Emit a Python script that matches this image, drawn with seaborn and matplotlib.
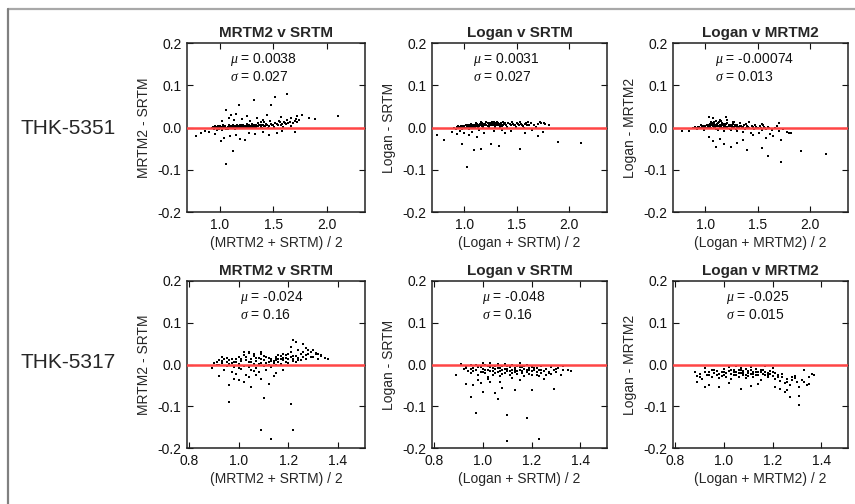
import matplotlib
matplotlib.use('Agg')
import matplotlib.pyplot as plt
from matplotlib.lines import Line2D
import seaborn as sns
import pandas as pd

# ---- data (approximate) ----
row_labels = ['THK-5351', 'THK-5317']
titles = ['MRTM2 v SRTM', 'Logan v SRTM', 'Logan v MRTM2']
ylabels = ['MRTM2 - SRTM', 'Logan - SRTM', 'Logan - MRTM2']
xlabels = ['(MRTM2 + SRTM) / 2', '(Logan + SRTM) / 2', '(Logan + MRTM2) / 2']
mu_text = [['0.0038', '0.0031', '-0.00074'], ['-0.024', '-0.048', '-0.025']]
sigma_text = [['0.027', '0.027', '0.013'], ['0.16', '0.16', '0.015']]

top_xticks = [1.0, 1.5, 2.0]
bottom_xticks = [0.8, 1.0, 1.2, 1.4]
yticks = [-0.2, -0.1, 0.0, 0.1, 0.2]

# THK-5351, MRTM2 v SRTM
p1 = [(0.92,-0.002),(0.93,0.001),(0.94,-0.004),(0.95,0.000),(0.96,0.002),(0.97,-0.001),(0.98,0.001),(0.99,-0.003),
      (1.00,0.000),(1.01,0.002),(1.02,-0.001),(1.03,0.001),(1.04,0.003),(1.05,-0.002),(1.06,0.000),(1.07,0.002),
      (1.08,-0.001),(1.09,0.001),(1.10,0.003),(1.11,0.000),(1.12,0.002),(1.13,-0.001),(1.14,0.001),(1.15,0.004),
      (1.16,0.000),(1.17,0.002),(1.18,0.003),(1.19,0.001),(1.20,0.002),(1.21,0.004),(1.22,0.001),(1.23,0.003),
      (1.24,0.000),(1.25,0.002),(1.26,0.005),(1.27,0.002),(1.28,0.003),(1.29,0.001),(1.30,0.004),(1.31,0.002),
      (1.32,0.005),(1.33,0.003),(1.34,0.001),(1.35,0.004),(1.37,0.006),(1.38,0.002),(1.40,0.005),(1.42,0.003),
      (1.44,0.007),(1.46,0.004),(1.48,0.008),(1.50,0.006),(1.52,0.010),(1.54,0.007),(1.56,0.012),(1.58,0.009),
      (1.60,0.013),(1.62,0.008),(1.64,0.011),(1.66,0.014),(1.68,0.010),(1.70,0.015),(1.72,0.012),(1.74,0.017),
      (0.95,0.003),(0.97,-0.005),(1.00,0.004),(1.02,-0.006),(1.03,0.005),(1.05,0.002),(1.07,-0.004),(1.08,0.006),
      (1.10,-0.002),(1.12,0.005),(1.14,-0.003),(1.16,0.006),(1.18,-0.002),(1.20,0.007),(1.23,-0.001),(1.25,0.008),
      (1.28,0.000),(1.30,0.009),(1.33,-0.002),(1.36,0.010),(1.39,0.000),(1.41,0.012),(1.45,-0.002),(1.47,0.015),
      (1.51,0.001),(1.55,0.016),(1.59,0.002),(1.63,0.018),(1.67,0.004),(1.71,0.020),
      (0.96,0.000),(0.98,0.003),(0.99,0.001),(1.01,-0.002),(1.02,0.002),(1.04,0.000),(1.05,0.004),(1.06,-0.003),
      (1.07,0.001),(1.08,0.003),(1.09,-0.002),(1.10,0.001),(1.11,0.004),(1.12,-0.001),(1.13,0.003),(1.14,0.000),
      (1.15,0.002),(1.16,-0.002),(1.17,0.004),(1.18,0.001),(1.19,0.005),(1.20,-0.001),(1.21,0.002),(1.22,0.005),
      (1.24,0.003),(1.25,0.000),(1.26,0.002),(1.27,0.006),(1.29,0.004),(1.31,0.000),(1.32,0.002),(1.34,0.006),
      (1.36,0.003),(1.38,0.007),(1.41,0.004),(1.43,0.008),(1.49,0.005),(1.53,0.009),(1.57,0.006),(1.61,0.010),
      (1.06,0.041),(1.10,0.029),(1.08,0.022),(1.13,0.018),(1.18,0.053),(1.21,0.020),(1.25,0.027),(1.28,0.015),
      (1.32,0.064),(1.35,0.022),(1.40,0.018),(1.44,0.030),(1.48,0.053),(1.52,0.072),(1.57,0.025),(1.63,0.079),
      (1.67,0.022),(1.72,0.028),(1.77,0.030),(1.83,0.022),(1.89,0.021),(2.11,0.027),(1.15,0.033),(1.38,0.012),
      (1.02,0.015),
      (0.77,-0.021),(0.82,-0.013),(0.86,-0.008),(0.90,-0.010),(0.95,-0.015),(1.01,-0.033),(1.04,-0.025),(1.06,-0.086),
      (1.09,-0.020),(1.12,-0.056),(1.15,-0.018),(1.19,-0.028),(1.23,-0.030),(1.27,-0.012),(1.33,-0.016),(1.40,-0.010),
      (1.46,-0.018),(1.53,-0.012),(1.58,-0.008),(1.70,-0.011)]

# THK-5351, Logan v SRTM
p2 = [(0.90,0.000),(0.92,-0.003),(0.93,0.002),(0.95,0.001),(0.96,-0.002),(0.97,0.003),(0.99,0.000),(1.00,0.004),
      (1.01,-0.001),(1.02,0.003),(1.03,0.005),(1.04,0.001),(1.05,0.004),(1.06,0.002),(1.07,0.006),(1.08,0.003),
      (1.09,0.005),(1.10,0.001),(1.11,0.006),(1.12,0.004),(1.13,0.007),(1.14,0.003),(1.15,0.006),(1.16,0.008),
      (1.17,0.004),(1.18,0.007),(1.19,0.005),(1.20,0.009),(1.21,0.006),(1.22,0.004),(1.23,0.008),(1.24,0.006),
      (1.25,0.010),(1.26,0.007),(1.27,0.005),(1.28,0.009),(1.29,0.006),(1.30,0.011),(1.31,0.008),(1.32,0.005),
      (1.33,0.009),(1.35,0.007),(1.36,0.004),(1.38,0.008),(1.40,0.006),(1.42,0.010),(1.44,0.005),(1.46,0.009),
      (1.48,0.007),(1.50,0.011),(1.52,0.006),(1.54,0.009),(1.56,0.004),(1.58,0.008),(1.60,0.006),(1.63,0.010),
      (1.66,0.005),(1.70,0.009),(1.73,0.011),(1.77,0.008),(1.81,0.007),
      (0.94,0.004),(0.98,-0.004),(1.01,0.006),(1.04,-0.003),(1.06,0.008),(1.08,-0.002),(1.11,0.010),(1.13,0.000),
      (1.16,0.012),(1.18,0.001),(1.21,0.013),(1.23,0.002),(1.26,0.014),(1.29,0.002),(1.31,0.013),(1.34,0.001),
      (1.37,0.012),(1.41,0.002),(1.45,0.013),(1.49,0.001),(1.53,0.014),(1.57,0.000),(1.61,0.012),(1.68,0.002),
      (0.95,0.002),(0.97,0.000),(0.99,0.003),(1.00,0.001),(1.02,0.005),(1.03,0.002),(1.05,0.006),(1.06,0.004),
      (1.07,0.003),(1.09,0.007),(1.10,0.004),(1.12,0.008),(1.13,0.005),(1.15,0.009),(1.16,0.005),(1.17,0.010),
      (1.19,0.008),(1.20,0.006),(1.22,0.010),(1.23,0.005),(1.24,0.011),(1.26,0.009),(1.27,0.008),(1.28,0.012),
      (1.30,0.007),(1.32,0.010),(1.33,0.006),(1.35,0.011),(1.37,0.006),(1.39,0.010),(1.43,0.008),(1.47,0.006),
      (1.51,0.009),(1.55,0.007),(1.59,0.010),(1.62,0.007),(1.72,0.012),(1.76,0.010),
      (0.74,-0.018),(0.80,-0.029),(0.88,-0.010),(0.93,-0.015),(0.96,-0.008),(0.98,-0.040),(1.00,-0.012),(1.02,-0.094),
      (1.04,-0.018),(1.07,-0.010),(1.09,-0.054),(1.12,-0.022),(1.16,-0.050),(1.19,-0.014),(1.25,-0.040),(1.28,-0.009),
      (1.33,-0.044),(1.39,-0.013),(1.44,-0.008),(1.53,-0.050),(1.58,-0.012),(1.64,-0.006),(1.70,-0.021),(1.75,-0.010),
      (1.89,-0.034),(2.11,-0.036),(1.14,-0.006),(1.36,-0.005)]

# THK-5351, Logan v MRTM2
p3 = [(0.88,-0.002),(0.90,0.001),(0.92,-0.004),(0.94,0.002),(0.95,-0.001),(0.97,0.003),(0.98,0.000),(1.00,0.004),
      (1.01,-0.002),(1.02,0.006),(1.03,0.002),(1.04,0.008),(1.05,-0.001),(1.06,0.005),(1.07,0.010),(1.08,0.002),
      (1.09,0.007),(1.10,-0.003),(1.11,0.009),(1.12,0.004),(1.13,0.012),(1.14,0.001),(1.15,0.006),(1.16,0.010),
      (1.17,-0.002),(1.18,0.005),(1.19,0.008),(1.20,0.002),(1.21,0.011),(1.22,0.004),(1.23,-0.003),(1.24,0.007),
      (1.25,0.002),(1.26,0.009),(1.27,0.000),(1.28,0.005),(1.29,-0.004),(1.30,0.006),(1.31,0.002),(1.32,-0.002),
      (1.34,0.004),(1.35,0.000),(1.37,0.006),(1.38,-0.003),(1.40,0.003),(1.42,-0.001),(1.44,0.004),(1.46,-0.004),
      (1.48,0.002),(1.50,-0.002),(1.52,0.003),(1.54,-0.005),(1.56,0.001),(1.58,-0.003),(1.60,0.002),(1.63,-0.006),
      (1.66,0.000),(1.70,-0.008),(1.74,-0.004),(1.78,-0.010),(1.80,-0.012),
      (0.96,0.005),(0.99,-0.005),(1.02,0.001),(1.05,0.012),(1.08,0.014),(1.10,0.016),(1.12,-0.006),(1.15,0.015),
      (1.18,-0.008),(1.21,0.018),(1.24,-0.007),(1.27,0.013),(1.30,-0.009),(1.33,0.010),(1.36,-0.010),(1.39,0.008),
      (1.43,-0.012),(1.47,0.007),(1.51,-0.013),(1.55,0.006),(1.62,-0.015),(1.68,0.004),
      (0.91,-0.001),(0.93,0.001),(0.96,0.000),(0.98,0.004),(1.00,0.001),(1.01,0.005),(1.03,0.007),(1.04,0.003),
      (1.05,0.006),(1.06,0.009),(1.07,0.003),(1.08,0.008),(1.09,0.001),(1.10,0.006),(1.11,0.004),(1.12,0.010),
      (1.13,0.003),(1.14,0.007),(1.15,0.002),(1.16,0.005),(1.17,0.008),(1.18,0.002),(1.19,0.004),(1.20,0.009),
      (1.21,0.001),(1.22,0.007),(1.23,0.003),(1.25,0.006),(1.26,0.001),(1.28,0.003),(1.30,0.001),(1.33,0.003),
      (1.36,0.002),(1.39,0.000),(1.41,0.002),(1.45,0.001),(1.49,-0.001),(1.53,0.000),(1.57,-0.002),(1.61,0.000),
      (1.03,0.024),(1.07,0.022),(1.20,0.026),(1.14,0.018),(1.26,0.014),(1.42,0.012),(1.54,0.009),(1.70,0.010),
      (1.10,-0.045),(1.18,-0.039),(1.24,-0.046),(1.30,-0.037),(1.40,-0.053),(1.54,-0.048),(1.60,-0.067),(1.72,-0.081),
      (1.91,-0.055),(2.15,-0.062),(1.72,-0.029),(1.64,-0.021),(1.82,-0.013),(0.78,-0.008),(0.84,-0.008),(1.03,-0.023),
      (1.07,-0.033),(1.14,-0.028),(1.36,-0.029),(1.45,-0.017),(1.58,-0.025)]

# THK-5317, MRTM2 v SRTM
p4 = [(0.89,-0.008),(0.90,0.003),(0.91,0.006),(0.92,-0.001),(0.92,0.010),(0.93,0.004),(0.94,-0.012),(0.94,0.013),
      (0.95,0.007),(0.95,-0.004),(0.96,0.011),(0.96,0.001),(0.97,-0.018),(0.97,0.014),(0.98,0.005),(0.98,-0.007),
      (0.99,0.012),(0.99,-0.022),(1.00,0.002),(1.00,0.017),(1.01,-0.010),(1.01,0.008),(1.02,0.022),(1.02,-0.003),
      (1.03,0.011),(1.03,-0.026),(1.04,0.005),(1.04,0.028),(1.05,-0.014),(1.05,0.013),(1.06,0.002),(1.06,0.020),
      (1.07,-0.008),(1.07,0.009),(1.08,0.016),(1.08,-0.019),(1.09,0.004),(1.09,0.024),(1.10,-0.004),(1.10,0.011),
      (1.11,0.018),(1.11,-0.012),(1.12,0.006),(1.12,0.000),(1.13,0.014),(1.13,-0.006),(1.14,0.009),(1.14,0.003),
      (1.15,0.016),(1.15,-0.002),(1.16,0.012),(1.16,0.005),(1.17,0.020),(1.17,0.001),(1.18,0.010),(1.18,0.015),
      (1.19,0.006),(1.19,0.023),(1.20,0.012),(1.20,0.003),(1.21,0.018),(1.21,0.030),(1.22,0.009),(1.22,0.014),
      (1.23,0.021),(1.23,0.006),(1.24,0.016),(1.25,0.026),(1.25,0.010),(1.26,0.019),(1.27,0.013),(1.28,0.024),
      (1.28,0.034),(1.30,0.017),(1.31,0.028),(1.32,0.012),(1.33,0.020),(1.35,0.015),
      (0.91,0.000),(0.93,0.008),(0.95,0.015),(0.97,0.003),(0.99,0.006),(1.00,-0.008),(1.01,0.014),(1.03,0.018),
      (1.04,-0.005),(1.05,0.007),(1.06,0.026),(1.07,0.015),(1.08,0.002),(1.09,0.012),(1.10,0.020),(1.11,0.004),
      (1.12,0.015),(1.13,0.008),(1.15,0.010),(1.16,0.022),(1.17,0.013),(1.19,0.016),(1.20,0.025),(1.22,0.020),
      (1.24,0.010),(1.26,0.030),(1.27,0.022),(1.29,0.018),(1.30,0.035),(1.32,0.025),
      (0.92,-0.028),(0.96,-0.049),(0.96,-0.091),(0.98,-0.035),(1.00,-0.037),(1.02,-0.042),(1.04,-0.030),(1.05,-0.053),
      (1.07,-0.024),(1.09,-0.034),(1.10,-0.081),(1.09,-0.157),(1.12,-0.047),(1.13,-0.179),(1.15,-0.020),(1.18,-0.012),
      (1.21,-0.095),(1.22,-0.158),(1.14,-0.028),(1.06,-0.016),
      (0.93,0.017),(1.02,0.030),(1.04,0.030),(1.09,0.030),(1.15,0.018),(1.18,0.026),(1.21,0.042),(1.22,0.058),
      (1.23,0.054),(1.24,0.035),(1.27,0.040),(1.29,0.030),(1.31,0.026),(1.33,0.022),(1.36,0.013),(1.26,0.048)]

# THK-5317, Logan v SRTM
p5 = [(0.91,0.002),(0.92,-0.010),(0.93,-0.004),(0.94,-0.015),(0.95,-0.002),(0.95,-0.020),(0.96,-0.008),(0.97,0.000),
      (0.97,-0.013),(0.98,-0.025),(0.99,-0.005),(0.99,-0.017),(1.00,0.003),(1.00,-0.010),(1.01,-0.021),(1.01,-0.002),
      (1.02,-0.012),(1.02,-0.030),(1.03,-0.006),(1.03,0.004),(1.04,-0.015),(1.04,-0.024),(1.05,-0.003),(1.05,-0.011),
      (1.06,-0.019),(1.06,0.001),(1.07,-0.008),(1.07,-0.028),(1.08,-0.014),(1.08,-0.004),(1.09,-0.020),(1.09,0.002),
      (1.10,-0.010),(1.10,-0.016),(1.11,-0.006),(1.11,-0.025),(1.12,-0.013),(1.12,0.000),(1.13,-0.018),(1.13,-0.008),
      (1.14,-0.003),(1.14,-0.022),(1.15,-0.012),(1.15,0.003),(1.16,-0.016),(1.16,-0.007),(1.17,-0.027),(1.17,-0.011),
      (1.18,-0.002),(1.18,-0.019),(1.19,-0.009),(1.19,-0.014),(1.20,-0.024),(1.20,-0.005),(1.21,-0.013),(1.22,-0.018),
      (1.22,-0.008),(1.23,-0.028),(1.23,-0.012),(1.24,-0.004),(1.24,-0.020),(1.25,-0.015),(1.26,-0.010),(1.26,-0.026),
      (1.27,-0.017),(1.28,-0.007),(1.28,-0.022),(1.29,-0.013),(1.30,-0.019),(1.31,-0.009),(1.32,-0.024),(1.33,-0.014),
      (1.33,-0.003),(1.35,-0.012),(1.36,-0.016),
      (0.93,-0.008),(0.95,-0.011),(0.96,-0.016),(0.98,-0.006),(1.00,-0.018),(1.01,-0.012),(1.02,-0.004),(1.03,-0.016),
      (1.04,-0.008),(1.05,-0.020),(1.06,-0.009),(1.07,-0.015),(1.08,-0.022),(1.09,-0.010),(1.10,-0.004),(1.11,-0.015),
      (1.12,-0.020),(1.13,-0.012),(1.14,-0.016),(1.15,-0.006),(1.16,-0.021),(1.17,-0.004),(1.18,-0.013),(1.19,-0.022),
      (1.20,-0.015),(1.21,-0.008),(1.22,-0.025),(1.24,-0.012),(1.27,-0.020),(1.30,-0.011),
      (0.89,-0.026),(0.93,-0.047),(0.95,-0.077),(0.96,-0.049),(0.97,-0.117),(0.99,-0.045),(1.00,-0.065),(1.03,-0.041),
      (1.05,-0.069),(1.06,-0.083),(1.08,-0.057),(1.10,-0.121),(1.10,-0.183),(1.13,-0.061),(1.15,-0.037),(1.18,-0.129),
      (1.20,-0.061),(1.23,-0.178),(1.29,-0.059),(1.02,-0.035),(1.07,-0.042),(1.12,-0.033),(1.25,-0.035),(0.98,-0.038)]

# THK-5317, Logan v MRTM2
p6 = [(0.88,-0.018),(0.89,-0.028),(0.90,-0.022),(0.91,-0.035),(0.92,-0.008),(0.93,-0.025),(0.94,-0.017),(0.95,-0.030),
      (0.95,-0.012),(0.96,-0.021),(0.97,-0.026),(0.97,-0.015),(0.98,-0.032),(0.99,-0.019),(1.00,-0.024),(1.00,-0.010),
      (1.01,-0.029),(1.02,-0.016),(1.02,-0.005),(1.03,-0.022),(1.03,-0.035),(1.04,-0.013),(1.04,-0.026),(1.05,-0.018),
      (1.05,-0.003),(1.06,-0.030),(1.06,-0.012),(1.07,-0.021),(1.07,-0.008),(1.08,-0.025),(1.08,-0.016),(1.09,-0.033),
      (1.09,-0.011),(1.10,-0.020),(1.10,-0.027),(1.11,-0.014),(1.11,-0.006),(1.12,-0.023),(1.12,-0.031),(1.13,-0.017),
      (1.13,-0.010),(1.14,-0.026),(1.15,-0.019),(1.15,-0.036),(1.16,-0.013),(1.17,-0.024),(1.17,-0.004),(1.18,-0.021),
      (1.18,-0.030),(1.19,-0.016),(1.20,-0.027),(1.20,-0.009),(1.21,-0.034),(1.21,-0.020),(1.22,-0.025),(1.23,-0.040),
      (1.24,-0.030),(1.25,-0.045),(1.26,-0.035),(1.27,-0.050),(1.28,-0.038),(1.29,-0.028),(1.30,-0.043),(1.31,-0.055),
      (1.32,-0.036),(1.34,-0.048),(1.35,-0.030),(1.37,-0.024),
      (0.90,-0.030),(0.92,-0.018),(0.94,-0.026),(0.96,-0.014),(0.98,-0.022),(0.99,-0.028),(1.00,-0.017),(1.01,-0.021),
      (1.03,-0.012),(1.04,-0.019),(1.05,-0.025),(1.06,-0.021),(1.07,-0.014),(1.08,-0.020),(1.09,-0.024),(1.10,-0.015),
      (1.11,-0.022),(1.12,-0.017),(1.13,-0.026),(1.14,-0.018),(1.15,-0.013),(1.16,-0.022),(1.17,-0.017),(1.18,-0.025),
      (1.19,-0.022),(1.20,-0.018),(1.22,-0.030),(1.24,-0.022),(1.26,-0.042),(1.28,-0.030),
      (0.89,-0.042),(0.92,-0.054),(0.94,-0.050),(0.98,-0.054),(1.07,-0.058),(1.11,-0.052),(1.21,-0.054),(1.23,-0.058),
      (1.25,-0.066),(1.27,-0.078),(1.31,-0.096),(1.31,-0.076),(1.33,-0.042),(1.35,-0.046),(1.29,-0.032),(1.33,-0.012),
      (1.36,-0.022),(1.02,-0.044),(1.14,-0.046),(1.26,-0.060)]

panels = [[p1, p2, p3], [p4, p5, p6]]

# ---- style ----
sns.set_style('ticks')
plt.rcParams['font.family'] = ['Liberation Sans', 'DejaVu Sans']
plt.rcParams['mathtext.fontset'] = 'custom'
plt.rcParams['mathtext.it'] = 'Liberation Serif:italic'
plt.rcParams['mathtext.rm'] = 'Liberation Sans'

W, H = 855, 504
fig = plt.figure(figsize=(W / 100, H / 100), dpi=100)

# axes boxes in pixels: left, top, right, bottom
lefts = [187, 432, 673]
rights = [365, 607, 848]
tops = [43, 281]
bottoms = [212, 448]
xlims = [(0.69, 2.36), (0.79, 1.51)]
text_x = [[0.24, 0.235, 0.24], [0.295, 0.285, 0.30]]

for r in range(2):
    for c in range(3):
        ax = fig.add_axes([lefts[c] / W, 1 - bottoms[r] / H,
                           (rights[c] - lefts[c]) / W, (bottoms[r] - tops[r]) / H])
        df = pd.DataFrame(panels[r][c], columns=['mean', 'diff'])
        sns.scatterplot(data=df, x='mean', y='diff', ax=ax, color='black',
                        s=3.5, marker='s', linewidth=0)
        ax.axhline(0, color='#ff4545', lw=1.8, zorder=3)
        ax.set_xlim(*xlims[r])
        ax.set_ylim(-0.2, 0.2)
        ax.set_yticks(yticks)
        ax.set_yticklabels(['%.1f' % v for v in yticks])
        xt = top_xticks if r == 0 else bottom_xticks
        ax.set_xticks(xt)
        ax.set_xticklabels(['%.1f' % v for v in xt])
        ax.tick_params(direction='in', top=True, right=True, length=4, width=0.8,
                       labelsize=10, pad=4, colors='#111111')
        for sp in ax.spines.values():
            sp.set_color('#222222')
            sp.set_linewidth(1.1)
        ax.set_title(titles[c], fontsize=11, fontweight='bold', pad=4)
        ax.set_xlabel(xlabels[c], fontsize=10, labelpad=3)
        ax.set_ylabel(ylabels[c], fontsize=10, labelpad=5)
        ax.text(text_x[r][c], 0.95, '$\\mu$ = ' + mu_text[r][c] + '\n' + '$\\sigma$ = ' + sigma_text[r][c],
                transform=ax.transAxes, ha='left', va='top', fontsize=10, linespacing=1.15,
                color='#111111')

fig.text(68 / W, 1 - 128 / H, row_labels[0], ha='center', va='center', fontsize=15)
fig.text(68 / W, 1 - 363 / H, row_labels[1], ha='center', va='center', fontsize=15)

# frame lines of the figure panel
fig.add_artist(Line2D([7.5 / W, 1], [1 - 8.5 / H, 1 - 8.5 / H], color='#a8a8a8', lw=1.6,
                      transform=fig.transFigure))
fig.add_artist(Line2D([7.5 / W, 7.5 / W], [0, 1 - 8.5 / H], color='#808080', lw=1.6,
                      transform=fig.transFigure))

fig.savefig('out.png', dpi=100)
